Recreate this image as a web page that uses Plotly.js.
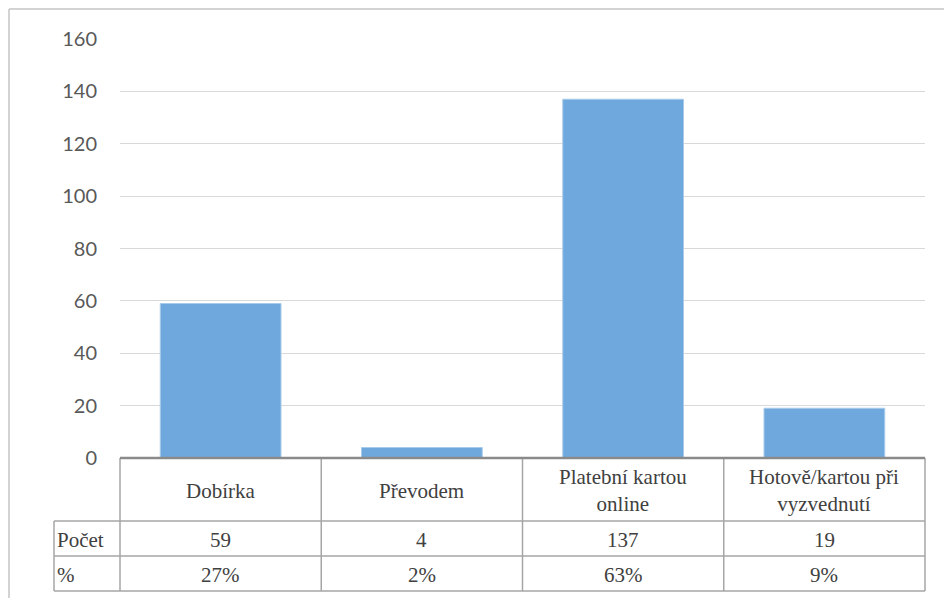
<!DOCTYPE html>
<html>
<head>
<meta charset="utf-8">
<script src="https://cdn.plot.ly/plotly-3.0.1.min.js"></script>
<style>html,body{margin:0;padding:0;background:#fff;}#chart{width:944px;height:598px;}</style>
</head>
<body>
<div id="chart"></div>
<script>
const categories = ['Dobírka', 'Převodem', 'Platební kartou online', 'Hotově/kartou při vyzvednutí'];
const headerLabels = ['Dobírka', 'Převodem', 'Platební kartou<br>online', 'Hotově/kartou při<br>vyzvednutí'];
const counts = [59, 4, 137, 19];
const percents = ['27%', '2%', '63%', '9%'];
const rowLabels = ['Počet', '%'];
const yTicks = [0, 20, 40, 60, 80, 100, 120, 140, 160];

const W = 944, H = 598;
const L = 120, R = 19, T = 39, B = 140;
const pw = W - L - R, ph = H - T - B;
const px2x = p => (p - L) / pw;
const py2y = p => (H - B - p) / ph;

const tableFont = {family: '"Liberation Serif", "Times New Roman", "DejaVu Serif", serif', size: 21, color: '#404040'};
const lineCol = '#a6a6a6';

const shapes = [];
const annotations = [];
function hline(x0, x1, yp, col, w) {
  shapes.push({type: 'line', xref: 'paper', yref: 'paper', x0: px2x(x0), x1: px2x(x1), y0: py2y(yp), y1: py2y(yp), line: {color: col, width: w}});
}
function vline(xp, y0, y1, col, w) {
  shapes.push({type: 'line', xref: 'paper', yref: 'paper', x0: px2x(xp), x1: px2x(xp), y0: py2y(y0), y1: py2y(y1), line: {color: col, width: w}});
}
// outer chart border
vline(9, 9, 598, '#c4c4c4', 1.5);
hline(9, 944, 9, '#c4c4c4', 1.5);

// table geometry
const tTop = 458, r1 = 521, r2 = 556, tBot = 591, labL = 54;
const n = categories.length;
const colX = i => L + pw * i / n;
hline(labL, W - R, r1, lineCol, 1.5);
hline(labL, W - R, r2, lineCol, 1.5);
hline(labL, W - R, tBot, lineCol, 1.5);
vline(labL, r1, tBot, lineCol, 1.5);
for (let i = 0; i <= n; i++) vline(colX(i), tTop, tBot, lineCol, 1.5);
// axis/table top line
hline(L, W - R, tTop, '#8a8a8a', 2.5);

categories.forEach((c, i) => {
  annotations.push({xref: 'x', yref: 'paper', x: c, y: py2y((tTop + r1) / 2 + 1), text: headerLabels[i], showarrow: false, font: tableFont, xanchor: 'center', yanchor: 'middle', align: 'center'});
  annotations.push({xref: 'x', yref: 'paper', x: c, y: py2y((r1 + r2) / 2 + 1), text: String(counts[i]), showarrow: false, font: tableFont, xanchor: 'center', yanchor: 'middle'});
  annotations.push({xref: 'x', yref: 'paper', x: c, y: py2y((r2 + tBot) / 2 + 1), text: percents[i], showarrow: false, font: tableFont, xanchor: 'center', yanchor: 'middle'});
});
rowLabels.forEach((t, j) => {
  const yc = j === 0 ? (r1 + r2) / 2 + 1 : (r2 + tBot) / 2 + 1;
  annotations.push({xref: 'paper', yref: 'paper', x: px2x(55), y: py2y(yc), text: t, showarrow: false, font: tableFont, xanchor: 'left', yanchor: 'middle'});
});

const trace = {
  type: 'bar',
  x: categories,
  y: counts,
  marker: {color: '#6fa8dc', line: {color: '#a9cbea', width: 1}},
  hoverinfo: 'x+y'
};

const layout = {
  width: W, height: H,
  margin: {l: L, r: R, t: T, b: B, pad: 0},
  paper_bgcolor: '#ffffff',
  plot_bgcolor: '#ffffff',
  showlegend: false,
  bargap: 0.4,
  xaxis: {type: 'category', range: [-0.5, n - 0.5], showticklabels: false, showgrid: false, zeroline: false, showline: false, ticks: '', fixedrange: true},
  yaxis: {range: [0, 160], tickvals: yTicks, ticktext: yTicks.map(String), showgrid: true, gridcolor: '#d9d9d9', gridwidth: 1.2, zeroline: false, showline: false, ticks: '', ticklabelstandoff: 22,
    tickfont: {family: 'Lato', size: 20, color: '#595959'}, fixedrange: true},
  shapes: shapes,
  annotations: annotations
};

Plotly.newPlot('chart', [trace], layout, {displayModeBar: false, staticPlot: true});
</script>
</body>
</html>
